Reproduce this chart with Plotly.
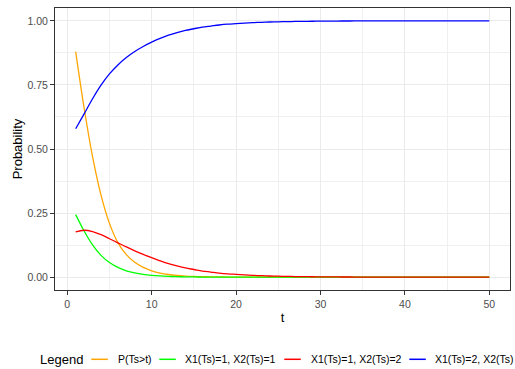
import plotly.graph_objects as go

t = list(range(1, 51))

p_surv = [0.880, 0.660, 0.470, 0.320, 0.210, 0.135, 0.088, 0.058, 0.038, 0.025,
          0.016, 0.0105, 0.0069, 0.0045, 0.0030, 0.0020, 0.0013, 0.00085, 0.00056, 0.00037,
          0.00024, 0.00016, 0.00010, 0.00007, 0.00005, 0.00003, 0.00002, 0.00001, 0.00001, 0.0,
          0.0, 0.0, 0.0, 0.0, 0.0, 0.0, 0.0, 0.0, 0.0, 0.0,
          0.0, 0.0, 0.0, 0.0, 0.0, 0.0, 0.0, 0.0, 0.0, 0.0]

p_11 = [0.244, 0.180, 0.126, 0.085, 0.057, 0.038, 0.025, 0.0165, 0.011, 0.0073,
        0.0048, 0.0032, 0.0021, 0.0014, 0.0009, 0.0006, 0.0004, 0.00027, 0.00018, 0.00012,
        0.00008, 0.00005, 0.00003, 0.00002, 0.00001, 0.00001, 0.0, 0.0, 0.0, 0.0,
        0.0, 0.0, 0.0, 0.0, 0.0, 0.0, 0.0, 0.0, 0.0, 0.0,
        0.0, 0.0, 0.0, 0.0, 0.0, 0.0, 0.0, 0.0, 0.0, 0.0]

p_12 = [0.177, 0.183, 0.178, 0.166, 0.150, 0.134, 0.118, 0.103, 0.089, 0.076,
        0.064, 0.053, 0.044, 0.036, 0.030, 0.024, 0.020, 0.016, 0.013, 0.011,
        0.009, 0.0072, 0.0058, 0.0047, 0.0038, 0.0031, 0.0025, 0.0020, 0.0016, 0.0013,
        0.0011, 0.0009, 0.0007, 0.0006, 0.0005, 0.0004, 0.0003, 0.00025, 0.0002, 0.00016,
        0.00013, 0.0001, 0.00008, 0.00007, 0.00005, 0.00004, 0.00003, 0.00003, 0.00002, 0.00002]

p_2x = [0.579, 0.637, 0.696, 0.749, 0.793, 0.828, 0.857, 0.8805, 0.900, 0.9167,
        0.9312, 0.9438, 0.9539, 0.9626, 0.9691, 0.9754, 0.9796, 0.9837, 0.9868, 0.9889,
        0.9910, 0.9928, 0.9942, 0.9953, 0.9962, 0.9969, 0.9975, 0.9980, 0.9984, 0.9987,
        0.9989, 0.9991, 0.9993, 0.9994, 0.9995, 0.9996, 0.9997, 0.99975, 0.9998, 0.99984,
        0.99987, 0.9999, 0.99992, 0.99993, 0.99995, 0.99996, 0.99997, 0.99997, 0.99998, 0.99998]

series_names = ["P(Ts>t)", "X1(Ts)=1, X2(Ts)=1", "X1(Ts)=1, X2(Ts)=2", "X1(Ts)=2, X2(Ts)"]
series_values = [p_surv, p_11, p_12, p_2x]
series_colors = ["#FFA500", "#00FF00", "#FF0000", "#0000FF"]

x_ticks = [0, 10, 20, 30, 40, 50]
y_ticks = [0.0, 0.25, 0.5, 0.75, 1.0]
y_ticklabels = ["0.00", "0.25", "0.50", "0.75", "1.00"]

FONT = "Liberation Sans, Arial, sans-serif"
W, H = 515, 369
ML, MR, MT, MB = 55, 5, 8, 79
PW, PH = W - ML - MR, H - MT - MB

fig = go.Figure()
for name, vals, col in zip(series_names, series_values, series_colors):
    fig.add_trace(go.Scatter(x=t, y=vals, mode="lines", name=name,
                             line=dict(color=col, width=1.3, shape="spline", smoothing=1.0),
                             showlegend=False))

axis_common = dict(showline=True, mirror=True, linecolor="#333333", linewidth=1,
                   ticks="outside", ticklen=4, tickcolor="#333333", tickwidth=1,
                   showgrid=True, gridcolor="#EBEBEB", gridwidth=1, zeroline=False,
                   tickfont=dict(family=FONT, size=10.5, color="#4D4D4D"))

fig.update_xaxes(range=[-1.45, 52.45], tickvals=x_ticks,
                 minor=dict(dtick=5, tick0=0, showgrid=True, gridcolor="#F0F0F0", gridwidth=0.7, ticklen=0),
                 title=dict(text="t", font=dict(family=FONT, size=13, color="black"), standoff=4),
                 **axis_common)
fig.update_yaxes(range=[-0.05, 1.05], tickvals=y_ticks, ticktext=y_ticklabels,
                 minor=dict(dtick=0.125, tick0=0, showgrid=True, gridcolor="#F0F0F0", gridwidth=0.7, ticklen=0),
                 title=dict(text="Probability", font=dict(family=FONT, size=13, color="black"), standoff=1),
                 **axis_common)

# Legend drawn at the bottom (ggplot-style)
def px2x(px):
    return (px - ML) / PW

def py2y(py):
    return (H - MB - py) / PH

leg_y = py2y(359.3)
annotations = [dict(text="Legend", x=px2x(39.3), y=leg_y, xref="paper", yref="paper",
                    xanchor="left", yanchor="middle", showarrow=False, borderpad=0,
                    font=dict(family=FONT, size=13, color="black"))]
shapes = []
line_starts = [91.3, 159.3, 284.3, 409.3]
text_starts = [116.7, 184.0, 309.7, 434.3]
for name, col, ls, ts in zip(series_names, series_colors, line_starts, text_starts):
    shapes.append(dict(type="line", xref="paper", yref="paper", x0=px2x(ls), x1=px2x(ls + 16.5),
                       y0=leg_y, y1=leg_y, line=dict(color=col, width=1.5)))
    annotations.append(dict(text=name, x=px2x(ts), y=leg_y, xref="paper", yref="paper",
                            xanchor="left", yanchor="middle", showarrow=False, borderpad=0,
                            font=dict(family=FONT, size=10.5, color="black")))

fig.update_layout(width=W, height=H, margin=dict(l=ML, r=MR, t=MT, b=MB),
                  paper_bgcolor="white", plot_bgcolor="white",
                  annotations=annotations, shapes=shapes, showlegend=False)

fig.write_html("out.html")
